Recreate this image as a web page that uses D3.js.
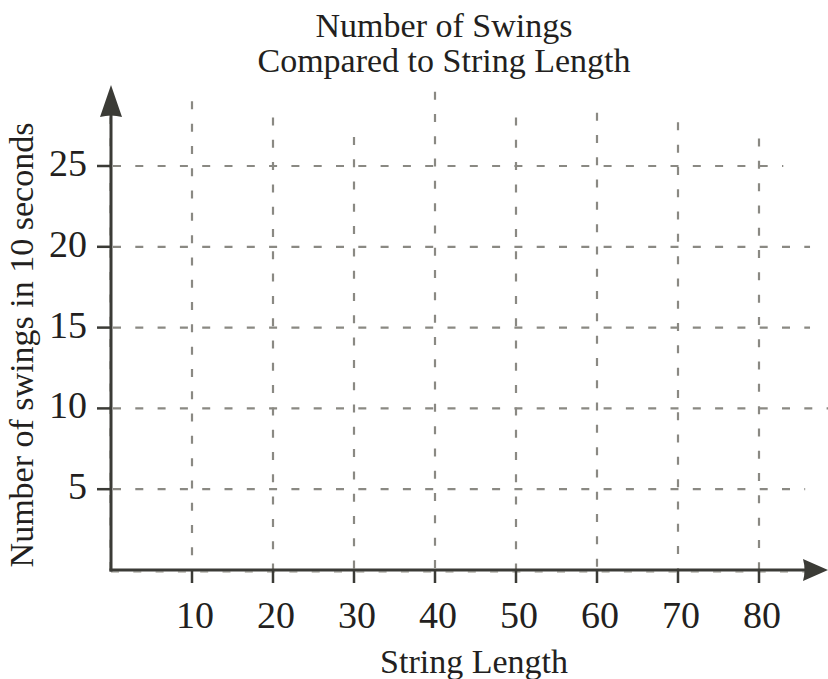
<!DOCTYPE html>
<html lang="en">
<head>
<meta charset="UTF-8">
<title>Number of Swings</title>
<script src="https://cdn.jsdelivr.net/npm/d3@7"></script>
<style>
    body { margin: 0; background: #fff; }
    text { font-family: "Liberation Serif", "DejaVu Serif", serif; fill: #231f20; }
</style>
</head>
<body>
<div id="container"></div>
<script>
    // tick values
    let xTicks = [10, 20, 30, 40, 50, 60, 70, 80]
    let yTicks = [5, 10, 15, 20, 25]
    // how far each hand-drawn grid line reaches (in data units)
    let vGridTop = [29.0, 28.0, 26.8, 29.6, 28.0, 28.3, 27.7, 26.7]
    let hGridEnd = [85.7, 88.6, 86.3, 86.3, 83.0]

    let titleLines = ["Number of Swings", "Compared to String Length"]
    let xTitle = "String Length"
    let yTitle = "Number of swings in 10 seconds"

    let width = 828
    let height = 679
    let axisColor = '#3b3b36'
    let gridColor = '#8a8983'

    let x = d3.scaleLinear().domain([0, 80]).range([111, 759])
    let y = d3.scaleLinear().domain([0, 25]).range([570, 166])

    let svg = d3.select('#container')
        .append('svg')
        .attr('width', width)
        .attr('height', height)

    // faint dashed lines lying under the axes
    svg.append('line')
        .attr('x1', x(0)).attr('x2', x(86))
        .attr('y1', y(0) + 2).attr('y2', y(0) + 2)
        .attr('stroke', '#c9c8c3').attr('stroke-width', 2)
        .attr('stroke-dasharray', '8,14.3')
    svg.append('line')
        .attr('x1', x(0) - 1).attr('x2', x(0) - 1)
        .attr('y1', y(0)).attr('y2', y(28))
        .attr('stroke', '#c9c8c3').attr('stroke-width', 2)
        .attr('stroke-dasharray', '8,14.3')

    // vertical grid
    svg.selectAll('line.vgrid')
        .data(xTicks)
        .enter()
        .append('line')
        .attr('class', 'vgrid')
        .attr('x1', d => x(d)).attr('x2', d => x(d))
        .attr('y1', (d, i) => y(vGridTop[i]))
        .attr('y2', y(0))
        .attr('stroke', gridColor)
        .attr('stroke-width', 2.2)
        .attr('stroke-dasharray', '8,14.3')

    // horizontal grid
    svg.selectAll('line.hgrid')
        .data(yTicks)
        .enter()
        .append('line')
        .attr('class', 'hgrid')
        .attr('y1', d => y(d)).attr('y2', d => y(d))
        .attr('x1', x(0) + 2)
        .attr('x2', (d, i) => x(hGridEnd[i]))
        .attr('stroke', gridColor)
        .attr('stroke-width', 2.2)
        .attr('stroke-dasharray', '8,14.3')

    // axes lines
    svg.append('line')
        .attr('x1', x(0) - 1.5).attr('x2', 805)
        .attr('y1', y(0)).attr('y2', y(0))
        .attr('stroke', axisColor).attr('stroke-width', 3)
    svg.append('line')
        .attr('x1', x(0)).attr('x2', x(0))
        .attr('y1', y(0) + 1.5).attr('y2', 115)
        .attr('stroke', axisColor).attr('stroke-width', 3)

    // arrow heads
    svg.append('path')
        .attr('d', 'M803,559 L828,570 L803,581 Q806,570 803,559 Z')
        .attr('fill', axisColor)
    svg.append('path')
        .attr('d', 'M100,117 L111,85 L122,117 Q111,114 100,117 Z')
        .attr('fill', axisColor)

    // ticks
    svg.selectAll('line.xtick')
        .data(xTicks)
        .enter()
        .append('line')
        .attr('x1', d => x(d)).attr('x2', d => x(d))
        .attr('y1', y(0)).attr('y2', y(0) + 13)
        .attr('stroke', axisColor).attr('stroke-width', 2.5)
    svg.selectAll('line.ytick')
        .data(yTicks)
        .enter()
        .append('line')
        .attr('y1', d => y(d)).attr('y2', d => y(d))
        .attr('x1', x(0) - 14).attr('x2', x(0))
        .attr('stroke', axisColor).attr('stroke-width', 2.5)

    // tick labels
    svg.selectAll('text.xlab')
        .data(xTicks)
        .enter()
        .append('text')
        .attr('x', d => x(d) + 3)
        .attr('y', 628)
        .attr('text-anchor', 'middle')
        .style('font-size', '38px')
        .text(d => d)
    svg.selectAll('text.ylab')
        .data(yTicks)
        .enter()
        .append('text')
        .attr('x', 87)
        .attr('y', d => y(d) + 10)
        .attr('text-anchor', 'end')
        .style('font-size', '38px')
        .text(d => d)

    // titles
    svg.selectAll('text.title')
        .data(titleLines)
        .enter()
        .append('text')
        .attr('x', 444)
        .attr('y', (d, i) => 37 + i * 35)
        .attr('text-anchor', 'middle')
        .style('font-size', '34px')
        .text(d => d)

    svg.append('text')
        .attr('x', 474).attr('y', 673)
        .attr('text-anchor', 'middle')
        .style('font-size', '34px')
        .text(xTitle)

    svg.append('text')
        .attr('transform', 'translate(33,345) rotate(-90)')
        .attr('text-anchor', 'middle')
        .style('font-size', '34px')
        .text(yTitle)
</script>
</body>
</html>
